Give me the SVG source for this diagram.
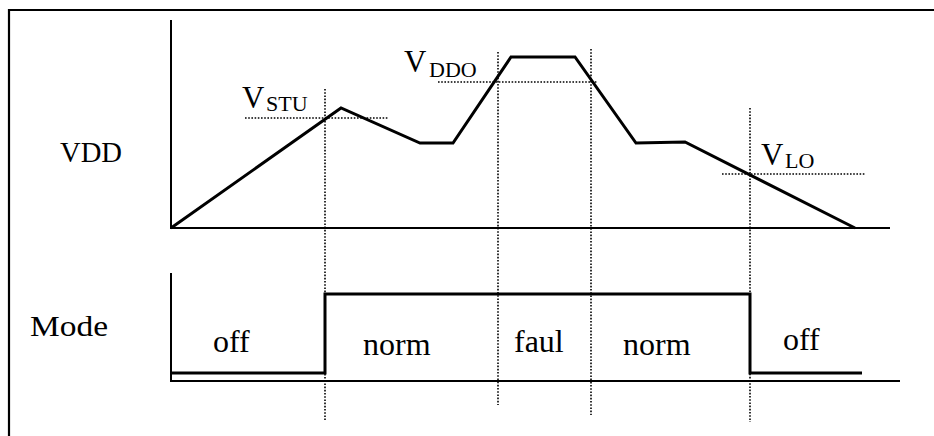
<svg xmlns="http://www.w3.org/2000/svg" width="934" height="436" viewBox="0 0 934 436">
<style>
.frame{fill:none;stroke:#000;stroke-width:2.2}
.axis{fill:none;stroke:#000;stroke-width:2}
.wave{fill:none;stroke:#000;stroke-width:3;stroke-linejoin:miter}
.dot{fill:none;stroke:#000;stroke-width:1.6;stroke-dasharray:1.6 1.6}
.lbl{font-size:30px}
.big{font-size:31px}
.sub{font-size:22px}
.st{font-size:32px}
</style>
<rect width="934" height="436" fill="#fff"/>
<path class="frame" d="M9,436 V10 H934"/>
<g id="vdd-axes">
<path class="axis" d="M171,20 V228 H890"/>
</g>
<g id="mode-axes">
<path class="axis" d="M171,273 V381 H900"/>
</g>
<g id="connectors">
<path class="dot" d="M245,118 H388"/>
<path class="dot" d="M438,82 H598"/>
<path class="dot" d="M722,174 H866"/>
<path class="dot" d="M325,89 V420"/>
<path class="dot" d="M498,52 V405"/>
<path class="dot" d="M591,49 V415"/>
<path class="dot" d="M750,108 V422"/>
</g>
<g id="vdd-wave">
<path class="wave" d="M171,228 L341,108 L420,143 L453,143 L511,57 L575,57 L636,143 L685,142 L855,228"/>
</g>
<g id="mode-wave">
<path class="wave" d="M171,373 H325 V294 H750 V373 H862"/>
</g>
<g id="labels" font-family="Liberation Serif, DejaVu Serif, serif" fill="#000">
<text class="lbl" x="60" y="162" textLength="62" lengthAdjust="spacingAndGlyphs">VDD</text>
<text class="lbl" x="30" y="336" textLength="78" lengthAdjust="spacingAndGlyphs">Mode</text>
<text class="big" x="242" y="108">V</text><text class="sub" x="266" y="111">STU</text>
<text class="big" x="404" y="72">V</text><text class="sub" x="429" y="77">DDO</text>
<text class="big" x="761" y="165">V</text><text class="sub" x="785" y="168">LO</text>
<text class="st" x="213" y="352">off</text>
<text class="st" x="363" y="355">norm</text>
<text class="st" x="514" y="352">faul</text>
<text class="st" x="623" y="355">norm</text>
<text class="st" x="783" y="350">off</text>
</g>
</svg>
